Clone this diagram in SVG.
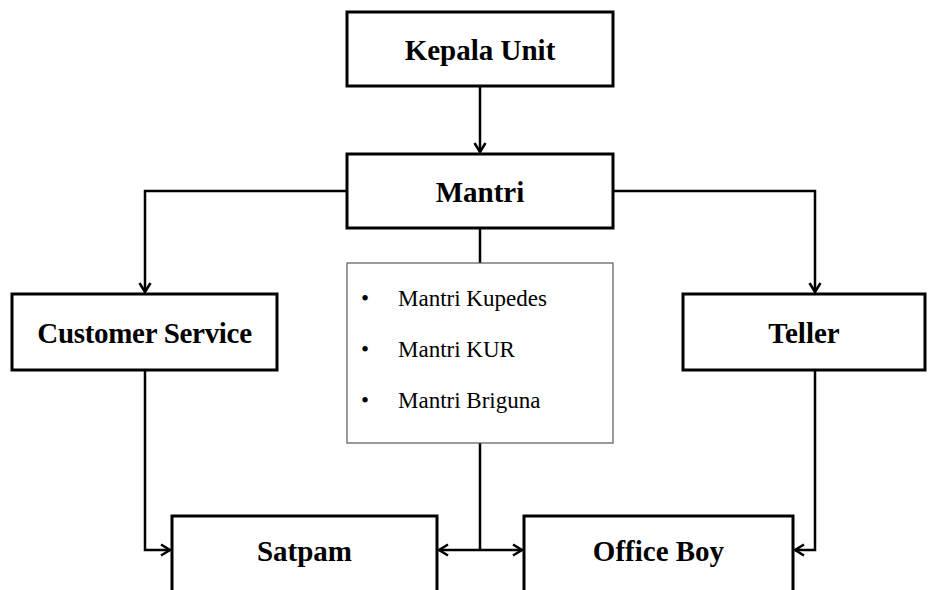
<svg xmlns="http://www.w3.org/2000/svg" width="937" height="590" viewBox="0 0 937 590">
<style>
.box{fill:#fff;stroke:#000;stroke-width:3}
.sub{fill:#fff;stroke:#595959;stroke-width:1.2}
.lbl{font-family:"Liberation Serif","Times New Roman",serif;font-weight:bold;font-size:29px;fill:#000;text-anchor:middle}
.item{font-family:"Liberation Serif","Times New Roman",serif;font-size:23px;fill:#000}
.con{fill:none;stroke:#000;stroke-width:2.5}
</style>
<defs>
<marker id="arr" viewBox="0 0 14 14" refX="12" refY="7" markerWidth="14" markerHeight="14" markerUnits="userSpaceOnUse" orient="auto">
<path d="M3,1.5 L12,7 L3,12.5" fill="none" stroke="#000" stroke-width="2.5"/>
</marker>
</defs>
<rect width="937" height="590" fill="#fff"/>
<g id="connectors">
<path class="con" d="M480,86 L480,152" marker-end="url(#arr)"/>
<path class="con" d="M347,191 L145,191 L145,292" marker-end="url(#arr)"/>
<path class="con" d="M613,191 L815,191 L815,292" marker-end="url(#arr)"/>
<path class="con" d="M480,228 L480,263"/>
<path class="con" d="M480,443 L480,550"/>
<path class="con" d="M480,550 L439,550" marker-end="url(#arr)"/>
<path class="con" d="M480,550 L522,550" marker-end="url(#arr)"/>
<path class="con" d="M145,370 L145,550 L170,550" marker-end="url(#arr)"/>
<path class="con" d="M815,370 L815,550 L795,550" marker-end="url(#arr)"/>
</g>
<g id="kepala-unit">
<rect class="box" x="347" y="12" width="266" height="74"/>
<text class="lbl" x="480" y="60">Kepala Unit</text>
</g>
<g id="mantri">
<rect class="box" x="347" y="154" width="266" height="74"/>
<text class="lbl" x="480" y="202">Mantri</text>
</g>
<g id="mantri-list">
<rect class="sub" x="347" y="263" width="266" height="180"/>
<text class="item" x="361" y="306">•</text>
<text class="item" x="398" y="306">Mantri Kupedes</text>
<text class="item" x="361" y="357">•</text>
<text class="item" x="398" y="357">Mantri KUR</text>
<text class="item" x="361" y="408">•</text>
<text class="item" x="398" y="408">Mantri Briguna</text>
</g>
<g id="customer-service">
<rect class="box" x="12" y="294" width="265" height="76"/>
<text class="lbl" x="144.5" y="343" letter-spacing="-0.3">Customer Service</text>
</g>
<g id="teller">
<rect class="box" x="683" y="294" width="242" height="76"/>
<text class="lbl" x="804" y="343">Teller</text>
</g>
<g id="satpam">
<rect class="box" x="172" y="516" width="265" height="80"/>
<text class="lbl" x="304.5" y="561">Satpam</text>
</g>
<g id="office-boy">
<rect class="box" x="524" y="516" width="269" height="80"/>
<text class="lbl" x="658.5" y="561">Office Boy</text>
</g>
</svg>
